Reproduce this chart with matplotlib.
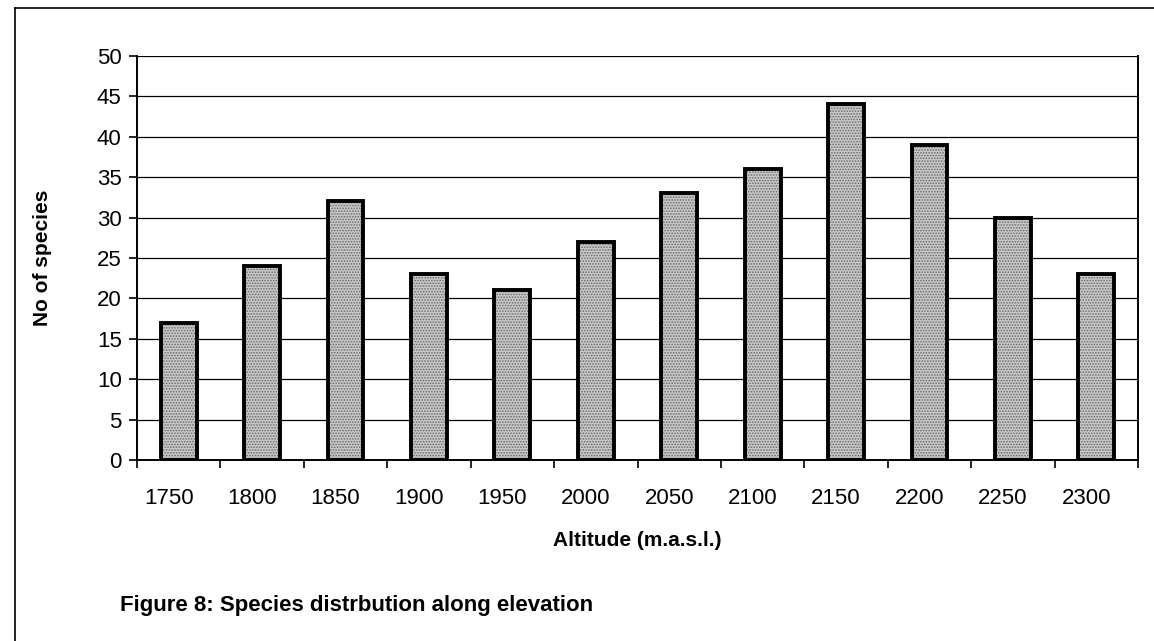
import matplotlib.pyplot as plt
from matplotlib.lines import Line2D

altitudes = ['1750', '1800', '1850', '1900', '1950', '2000',
             '2050', '2100', '2150', '2200', '2250', '2300']
species = [17, 24, 32, 23, 21, 27, 33, 36, 44, 39, 30, 23]

plt.rcParams['font.family'] = ['Liberation Sans', 'DejaVu Sans']
plt.rcParams['hatch.linewidth'] = 0.8

fig = plt.figure(figsize=(11.54, 6.41), dpi=100)
ax = fig.add_axes([137 / 1154, 1 - 460 / 641, 1001 / 1154, 404 / 641])

x = list(range(len(altitudes)))
# textured grey fill, then a heavy black outline on top
ax.bar(x, species, width=0.43, color='#c8c8c8', edgecolor='#6a6a6a',
       hatch='......', linewidth=0, zorder=2)
ax.bar(x, species, width=0.43, fill=False, edgecolor='black',
       linewidth=2.8, zorder=3)

ax.set_xlim(-0.5, len(altitudes) - 0.5)
ax.set_ylim(0, 50)
ax.set_yticks(range(0, 51, 5))
ax.yaxis.grid(True, color='black', linewidth=0.9, zorder=0)
ax.set_axisbelow(True)

# category boundary ticks, labels in the middle
ax.set_xticks([i - 0.5 for i in range(len(altitudes) + 1)])
ax.set_xticklabels([])
ax.set_xticks([i - 0.12 for i in x], minor=True)
ax.set_xticklabels(altitudes, minor=True)
ax.tick_params(axis='x', which='minor', length=0, pad=20, labelsize=16)
ax.tick_params(axis='x', which='major', length=6, width=1.2, direction='out')
ax.tick_params(axis='y', length=6, width=1.2, direction='out', labelsize=16, pad=5)

for side in ['left', 'right', 'bottom']:
    ax.spines[side].set_linewidth(1.4)
ax.spines['top'].set_visible(False)

ax.set_ylabel('No of species', fontsize=15, fontweight='bold', labelpad=32)
ax.set_xlabel('Altitude (m.a.s.l.)', fontsize=15, fontweight='bold', labelpad=16)

fig.text(120 / 1154, 1 - 606 / 641, 'Figure 8: Species distrbution along elevation',
         fontsize=16, fontweight='bold', va='center', ha='left')

# page frame (left and top edges)
fig.add_artist(Line2D([15 / 1154, 15 / 1154], [0, 1 - 8 / 641],
                      transform=fig.transFigure, color='black', linewidth=1.2))
fig.add_artist(Line2D([15 / 1154, 1], [1 - 8 / 641, 1 - 8 / 641],
                      transform=fig.transFigure, color='black', linewidth=1.2))

fig.savefig('out.png', dpi=100)
